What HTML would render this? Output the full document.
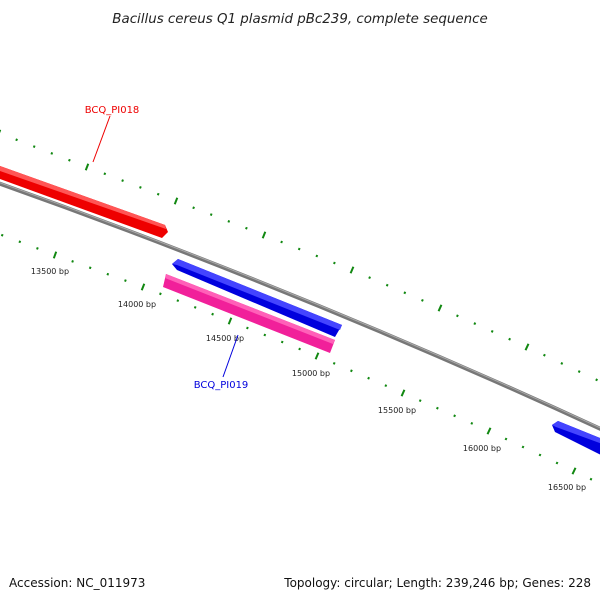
<!DOCTYPE html>
<html><head><meta charset="utf-8"><style>
body{margin:0;background:#fff}
svg{display:block}
text{font-family:"DejaVu Sans","Liberation Sans",sans-serif}
</style></head><body>
<svg id="s" width="600" height="600" viewBox="0 0 600 600">
<text x="300" y="23" text-anchor="middle" font-size="13.4" font-style="italic" fill="#222">Bacillus cereus Q1 plasmid pBc239, complete sequence</text>
<path d="M-5,182 Q300,290 605,431" stroke="#777" stroke-width="4" fill="none"/>
<path d="M-5,181 Q300,289 605,430" stroke="#aaa" stroke-width="1" fill="none"/>
<polygon points="0,166 165,225 168,232 162,238 0,179" fill="#e00"/>
<polygon points="0,166 165,225 166,229 0,171" fill="#f55"/>
<polygon points="172,264 178,259 342,325 335,337 177,270" fill="#00d"/>
<polygon points="172,264 178,259 342,325 340,330 177,265" fill="#44f"/>
<polygon points="166,274 335,340 330,353 163,287" fill="#f1209a"/>
<polygon points="166,274 335,340 333,344 165,278" fill="#ff60b8"/>
<polygon points="552,425 558,421 605,440 605,457 555,432" fill="#00d"/>
<polygon points="552,425 558,421 605,440 605,445 556,427" fill="#44f"/>
<g id="ticks" fill="#161"></g>
<g font-size="8" fill="#222" text-anchor="middle">
<text x="50" y="274">13500 bp</text>
<text x="137" y="307">14000 bp</text>
<text x="225" y="341">14500 bp</text>
<text x="311" y="376">15000 bp</text>
<text x="397" y="413">15500 bp</text>
<text x="482" y="451">16000 bp</text>
<text x="567" y="490">16500 bp</text>
</g>
<line x1="110" y1="116" x2="93" y2="162" stroke="#e00" stroke-width="1"/>
<text x="112" y="113" font-size="10" fill="#e00" text-anchor="middle">BCQ_PI018</text>
<line x1="238" y1="335" x2="223" y2="377" stroke="#00d" stroke-width="1"/>
<text x="221" y="388" font-size="10" fill="#00d" text-anchor="middle">BCQ_PI019</text>
<text x="9" y="587" font-size="12" fill="#111">Accession: NC_011973</text>
<text x="591" y="587" font-size="12" fill="#111" text-anchor="end">Topology: circular; Length: 239,246 bp; Genes: 228</text>
</svg>
<script>
var g=document.getElementById('ticks'),ns='http://www.w3.org/2000/svg';
function row(maj){
 for(var i=0;i<maj.length-1;i++){
  var a=maj[i],b=maj[i+1];
  for(var k=0;k<5;k++){
   var x=a[0]+(b[0]-a[0])*k/5,y=a[1]+(b[1]-a[1])*k/5;
   var l=document.createElementNS(ns,'line');
   var dx=(b[0]-a[0]),dy=(b[1]-a[1]),d=Math.hypot(dx,dy);
   var px=-dy/d,py=dx/d,h=k==0?3.5:1.1;
   l.setAttribute('x1',x-px*h);l.setAttribute('y1',y-py*h);
   l.setAttribute('x2',x+px*h);l.setAttribute('y2',y+py*h);
   l.setAttribute('stroke','#181');l.setAttribute('stroke-width',2);
   g.appendChild(l);
  }
 }
}
row([[-1,133],[87,167],[176,201],[264,235],[352,270],[440,308],[527,347],[614,388]]);
row([[-33,222],[55,255],[143,287],[230,321],[317,356],[403,393],[489,431],[574,471],[659,512]]);
</script>
</body></html>
